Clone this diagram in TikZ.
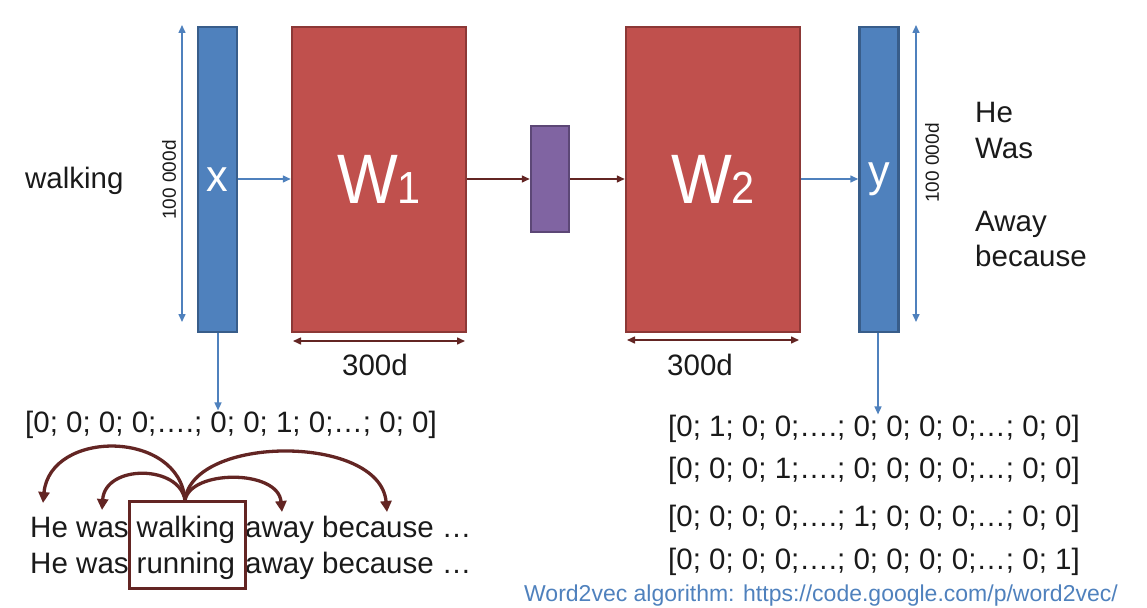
\documentclass[tikz,border=0pt]{standalone}
\usepackage{fontspec}
\setmainfont{Liberation Sans}
\usetikzlibrary{arrows.meta}
\definecolor{bfill}{HTML}{4F81BD}
\definecolor{bline}{HTML}{385D8A}
\definecolor{rfill}{HTML}{C0504D}
\definecolor{rline}{HTML}{8C3836}
\definecolor{pfill}{HTML}{8064A2}
\definecolor{pline}{HTML}{5C4776}
\definecolor{dred}{HTML}{632523}
\definecolor{txt}{HTML}{1A1A1A}
\newcommand{\fs}[1]{\fontsize{#1}{#1}\selectfont}
\begin{document}
\begin{tikzpicture}[x=1pt,y=-1pt,
  vecbox/.style={rectangle, fill=bfill, draw=bline, line width=2.5pt, inner sep=0pt,
    minimum width=39pt, minimum height=305pt, text=white, font=\fs{36}},
  matbox/.style={rectangle, fill=rfill, draw=rline, line width=2.5pt, inner sep=0pt,
    minimum width=174pt, minimum height=305pt, text=white},
  hidbox/.style={rectangle, fill=pfill, draw=pline, line width=2.5pt, inner sep=0pt,
    minimum width=38pt, minimum height=106pt},
  barrow/.style={draw=bfill, line width=1.5pt, -{Triangle[length=8pt,width=7pt]}},
  rarrow/.style={draw=dred, line width=1.5pt, -{Triangle[length=8pt,width=7pt]}},
  bdim/.style={draw=bfill, line width=1.5pt, {Triangle[length=8pt,width=7pt]}-{Triangle[length=8pt,width=7pt]}},
  rdim/.style={draw=dred, line width=1.5pt, {Triangle[length=8pt,width=7pt]}-{Triangle[length=8pt,width=7pt]}},
  arc/.style={draw=dred, line width=3.3pt, -{Triangle[length=11pt,width=11pt]}},
  lbl/.style={inner sep=0pt, text=txt, font=\fs{29.5}, anchor=base west},
  dimlbl/.style={inner sep=0pt, text=txt, font=\fs{19}, rotate=90},
  word/.style={inner sep=0pt, text=txt, font=\fs{29.5}, anchor=base west},
]
\useasboundingbox (0,0) rectangle (1147,607);

% main boxes
\node[vecbox] (x) at (217.5,179.5) {\scalebox{1.2}[1.25]{x}};
\node[matbox] (w1) at (379,179.5) {\scalebox{1.15}[1.25]{\fs{56}W\fs{36}1}};
\node[hidbox] (h) at (550,179) {};
\node[matbox] (w2) at (713,179.5) {\scalebox{1.15}[1.25]{\fs{56}W\fs{36}2}};
\node[vecbox] (y) at (879,179.5) {\scalebox{1.2}[1.25]{y}};

% horizontal connectors
\draw[barrow] (x.east |- 0,179) -- (w1.west |- 0,179);
\draw[rarrow] (w1.east |- 0,179) -- (h.west |- 0,179);
\draw[rarrow] (h.east |- 0,179) -- (w2.west |- 0,179);
\draw[barrow] (w2.east |- 0,179) -- (y.west |- 0,179);

% dimension arrows
\coordinate (dl1) at (182,25);
\coordinate (dl2) at (182,322);
\draw[bdim] (dl1) -- (dl2);
\node[dimlbl] (dlt) at (169,180) {100 000d};
\coordinate (dr1) at (916,25);
\coordinate (dr2) at (916,322);
\draw[bdim] (dr1) -- (dr2);
\node[dimlbl] (drt) at (932,163) {100 000d};

\coordinate (wa) at (293,341);
\coordinate (wb) at (465,341);
\draw[rdim] (wa) -- (wb);
\node[inner sep=0pt, text=txt, font=\fs{29.5}, anchor=base] (w1d) at (375,375) {300d};
\coordinate (wc) at (627,340);
\coordinate (wd) at (799,340);
\draw[rdim] (wc) -- (wd);
\node[inner sep=0pt, text=txt, font=\fs{29.5}, anchor=base] (w2d) at (700,375) {300d};

% input / output text
\node[lbl] (walk) at (25,188) {walking};
\node[lbl] (oHe) at (975,122) {He};
\node[lbl] (oWas) at (975,158) {Was};
\node[lbl] (oAway) at (975,231) {Away};
\node[lbl] (obec) at (975,266) {because};

% one-hot vectors
\node[lbl] (vin) at (25,432) {[0; 0; 0; 0;….; 0; 0; 1; 0;…; 0; 0]};
\node[lbl] (v1) at (668,436) {[0; 1; 0; 0;….; 0; 0; 0; 0;…; 0; 0]};
\node[lbl] (v2) at (668,478) {[0; 0; 0; 1;….; 0; 0; 0; 0;…; 0; 0]};
\node[lbl] (v3) at (668,526) {[0; 0; 0; 0;….; 1; 0; 0; 0;…; 0; 0]};
\node[lbl] (v4) at (668,569) {[0; 0; 0; 0;….; 0; 0; 0; 0;…; 0; 1]};

\draw[barrow] (x.south -| 218,0) -- (vin.north -| 218,0) ;
\draw[barrow] (y.south -| 878,0) -- (v1.north -| 878,0);

% sentences
\node[word] (s1a) at (30,537) {He};
\node[word] (s1b) at (76,537) {was};
\node[word] (s1c) at (136.5,537) {walking};
\node[word] (s1d) at (245,537) {away};
\node[word] (s1e) at (322,537) {because …};
\node[word] (s2a) at (30,573) {He};
\node[word] (s2b) at (76,573) {was};
\node[word] (s2c) at (136.5,573) {running};
\node[word] (s2d) at (245,573) {away};
\node[word] (s2e) at (322,573) {because …};

\node[draw=dred, line width=3pt, inner sep=0pt, minimum width=116pt, minimum height=87pt] (ctx) at (187,544.5) {};

\coordinate (src) at (185,500.5);
\coordinate (t1) at (43,503);
\coordinate (t2) at (102,510);
\coordinate (t3) at (282,512);
\coordinate (t4) at (387,512);
\draw[arc] (src) .. controls +(-5,-71) and +(7,-74) .. (t1);
\draw[arc] (src) .. controls +(-5,-36) and +(3,-46) .. (t2);
\draw[arc] (src) .. controls +(5,-31) and +(-4,-43) .. (t3);
\draw[arc] (src) .. controls +(7,-66) and +(-7,-78) .. (t4);

% footer
\node[inner sep=0pt, text=bfill, font=\fs{23}, anchor=base east] (foot) at (1118,601)
  {Word2vec algorithm: https://code.google.com/p/word2vec/};
\end{tikzpicture}
\end{document}
